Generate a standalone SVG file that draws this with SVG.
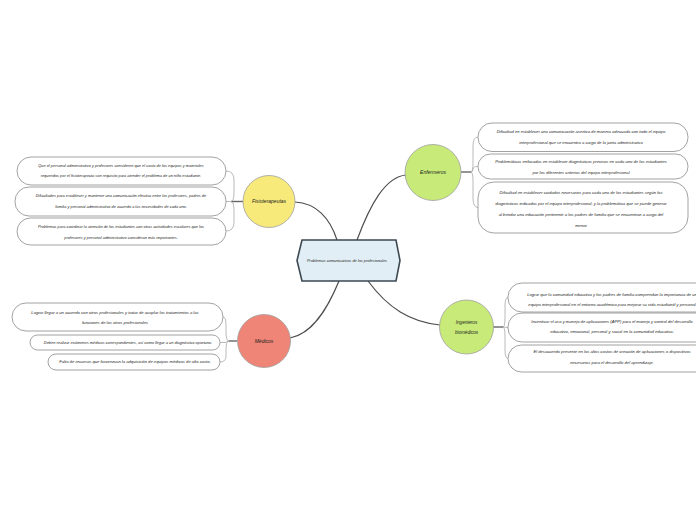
<svg xmlns="http://www.w3.org/2000/svg" width="696" height="520" viewBox="0 0 696 520">
<style>
.bg{fill:#ffffff}
.conn{fill:none;stroke:#4d4d4d;stroke-width:1.2}
.stub{fill:none;stroke:#666;stroke-width:1.4}
.br{fill:none;stroke:#a8a8a8;stroke-width:0.8}
.box{fill:#ffffff;stroke:#8a8a8a;stroke-width:0.8}
.circ{stroke:#a0a0a0;stroke-width:0.8}
.t{font-family:"Liberation Sans",Arial,sans-serif;font-style:italic;fill:#222;text-anchor:middle}
.s1{font-size:3.9px}
.s2{font-size:4.15px}
.lab{font-size:5px}
</style>
<rect class="bg" x="0" y="0" width="696" height="520"/>

<g id="connectors">
<path class="conn" d="M295,202 C316,203 330,218 337,240"/>
<path class="conn" d="M357,240 C370,205 385,177 406,175"/>
<path class="conn" d="M339,281 C327,310 312,334 290,338"/>
<path class="conn" d="M368,281 C388,308 410,322 440,325"/>
<path class="stub" d="M243,201.5 L231,201.5"/>
<path class="br" d="M231,201.5 Q234,201.5 234,192 L234,180 Q234,171 226,171"/>
<path class="br" d="M231,201.5 L226,201.5"/>
<path class="br" d="M231,201.5 Q234,201.5 234,211 L234,222 Q234,231 226,231"/>
<path class="stub" d="M461,172 L471,172"/>
<path class="br" d="M471,172 Q473,172 473,162 L473,146 Q473,137 478,137"/>
<path class="br" d="M471,172 Q473,172 473,169 Q473,166.5 478,166.5"/>
<path class="br" d="M471,172 Q473,172 473,182 L473,198 Q473,207.5 478,207.5"/>
<path class="stub" d="M237,341 L229,341"/>
<path class="br" d="M229,341 Q226,341 226,332 L226,325 Q226,317 223,317"/>
<path class="br" d="M229,341 Q226,341 226,342.5 L220,342.5"/>
<path class="br" d="M229,341 Q226,341 226,350 L226,356 Q226,362 220,362"/>
<path class="stub" d="M493,327 L503,327"/>
<path class="br" d="M503,327 Q505,327 505,317 L505,306 Q505,297.5 508,297.5"/>
<path class="br" d="M503,327 L508,327.5"/>
<path class="br" d="M503,327 Q505,327 505,337 L505,350 Q505,358.5 508,358.5"/>
</g>

<g id="center">
<polygon points="302,240 396,240 400,260.5 396,281 302,281 297,260.5" fill="#e1eef5" stroke="#3d4852" stroke-width="1.6"/>
<text class="t s1" x="347" y="262">Problemas comunicativos de los profesionales</text>
</g>

<g id="fisioterapeutas">
<circle class="circ" cx="269" cy="201.5" r="26" fill="#f8ea7a"/>
<text class="t lab" x="269" y="203.3">Fisioterapeutas</text>
</g>
<g id="fisio-1">
<rect class="box" x="17" y="157" width="209" height="28" rx="14"/>
<text class="t s1" x="121" y="167.3">Que el personal administrativo y profesores consideren que el costo de los equipos y materiales</text>
<text class="t s1" x="121" y="176.8">requeridos por el fisioterapeuta son requisito para atender el problema de un niño estudiante.</text>
</g>
<g id="fisio-2">
<rect class="box" x="15" y="187" width="211" height="29" rx="14"/>
<text class="t s1" x="121" y="197.3">Dificultades para establecer y mantener una comunicación efectiva entre los profesores, padres de</text>
<text class="t s1" x="121" y="208.3">familia y personal administrativo de acuerdo a las necesidades de cada uno.</text>
</g>
<g id="fisio-3">
<rect class="box" x="17" y="218" width="209" height="27" rx="13.5"/>
<text class="t s1" x="121" y="228.3">Problemas para coordinar la atención de los estudiantes con otras actividades escolares que los</text>
<text class="t s1" x="121" y="239.3">profesores y personal administrativo consideran más importantes.</text>
</g>

<g id="enfermeros">
<circle class="circ" cx="433" cy="172.5" r="28" fill="#c7ea78"/>
<text class="t lab" x="433" y="174.3">Enfermeros</text>
</g>
<g id="enf-1">
<rect class="box" x="478" y="123" width="210" height="28.5" rx="14"/>
<text class="t s2" x="581" y="133.4">Dificultad en establecer una comunicación asertiva de manera adecuada con todo el equipo</text>
<text class="t s2" x="581" y="144.4">interprofesional que se encuentra a cargo de la junta administrativa</text>
</g>
<g id="enf-2">
<rect class="box" x="478" y="154" width="210" height="25" rx="12.5"/>
<text class="t s2" x="581" y="163.2">Problemáticas enfocadas en establecer diagnósticos precisos en cada uno de los estudiantes</text>
<text class="t s2" x="581" y="173.7">por los diferentes criterios del equipo interprofesional</text>
</g>
<g id="enf-3">
<rect class="box" x="478" y="182" width="210" height="51" rx="16"/>
<text class="t s2" x="581" y="194.4">Dificultad en establecer cuidados necesarios para cada uno de los estudiantes según los</text>
<text class="t s2" x="581" y="205.4">diagnósticos indicados por el equipo interprofesional, y la problemática que se puede generar</text>
<text class="t s2" x="581" y="216.4">al brindar una educación pertinente a los padres de familia que se encuentran a cargo del</text>
<text class="t s2" x="581" y="227.4">menor</text>
</g>

<g id="medicos">
<circle class="circ" cx="264" cy="341" r="26.5" fill="#ee8577"/>
<text class="t lab" x="264" y="342.8">Médicos</text>
</g>
<g id="med-1">
<rect class="box" x="12" y="303" width="211" height="28" rx="14"/>
<text class="t s2" x="115" y="314.4">Lograr llegar a un acuerdo con otros profesionales y tratar de acoplar los tratamientos a las</text>
<text class="t s2" x="115" y="324.4">funciones de los otros profesionales</text>
</g>
<g id="med-2">
<rect class="box" x="30" y="335" width="190" height="15" rx="7.5"/>
<text class="t" x="128" y="344.3" style="font-size:3.95px">Deben realizar exámenes médicos correspondientes, así como llegar a un diagnóstico oportuno.</text>
</g>
<g id="med-3">
<rect class="box" x="48" y="354" width="172" height="16" rx="8"/>
<text class="t s2" x="135" y="363.4">Falta de recursos que favorezcan la adquisición de equipos médicos de alto costo.</text>
</g>

<g id="ingenieros">
<circle class="circ" cx="466.5" cy="327" r="27" fill="#c7ea78"/>
<text class="t lab" x="466.5" y="323.5" style="font-size:4.6px">Ingenieros</text>
<text class="t lab" x="466.5" y="334" style="font-size:4.6px">biomédicos</text>
</g>
<g id="ing-1">
<rect class="box" x="508" y="283" width="205" height="29" rx="14"/>
<text class="t s2" x="612" y="296.4">Lograr que la comunidad educativa y los padres de familia comprendan la importancia de un</text>
<text class="t s2" x="612" y="306.4">equipo interprofesional en el entorno académico para mejorar su vida estudiantil y personal</text>
</g>
<g id="ing-2">
<rect class="box" x="508" y="313" width="205" height="29" rx="14"/>
<text class="t s2" x="612" y="323.4">Incentivar el uso y manejo de aplicaciones (APP) para el manejo y control del desarrollo</text>
<text class="t s2" x="612" y="333.4">educativo, emocional, personal y social en la comunidad educativa.</text>
</g>
<g id="ing-3">
<rect class="box" x="508" y="345" width="205" height="27" rx="13.5"/>
<text class="t s2" x="612" y="353.4">El desacuerdo presente en los altos costos de creación de aplicaciones o dispositivos</text>
<text class="t s2" x="612" y="364.4">necesarios para el desarrollo del aprendizaje.</text>
</g>
</svg>
